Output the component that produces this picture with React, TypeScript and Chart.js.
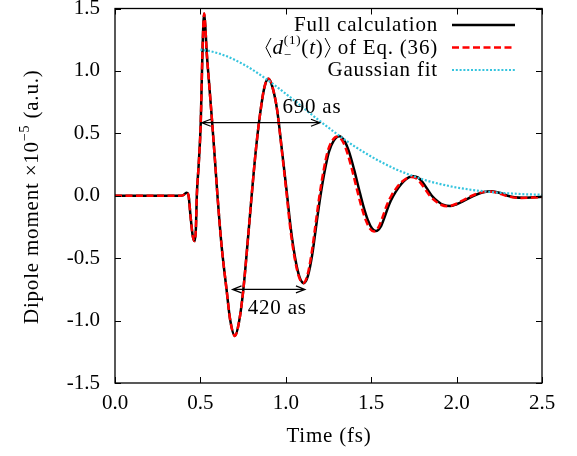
import React, { useEffect, useRef } from 'react';
import { Chart, registerables } from 'chart.js';

Chart.register(...registerables);

const FAMILY = "'Liberation Serif', 'DejaVu Serif', serif";

// ---------- data ----------
const xTicks = [0, 0.5, 1.0, 1.5, 2.0, 2.5];
const yTicks = [-1.5, -1.0, -0.5, 0, 0.5, 1.0, 1.5];

const fullX = [0.0, 0.38, 0.4, 0.418, 0.43, 0.442, 0.455, 0.467, 0.474, 0.479, 0.49, 0.502, 0.512, 0.522, 0.53, 0.536, 0.551, 0.569, 0.585, 0.6, 0.624, 0.653, 0.675, 0.702, 0.725, 0.75, 0.78, 0.8, 0.825, 0.85, 0.875, 0.898, 0.922, 0.95, 0.977, 1.004, 1.03, 1.055, 1.08, 1.106, 1.13, 1.155, 1.18, 1.203, 1.228, 1.252, 1.28, 1.313, 1.345, 1.37, 1.4, 1.43, 1.455, 1.48, 1.505, 1.528, 1.555, 1.58, 1.605, 1.63, 1.66, 1.69, 1.72, 1.747, 1.775, 1.8, 1.83, 1.855, 1.89, 1.92, 1.962, 2.0, 2.05, 2.1, 2.15, 2.206, 2.26, 2.3, 2.34, 2.39, 2.45, 2.5];
const fullY = [0, 0, 0.005, 0.024, 0.005, -0.16, -0.32, -0.363, -0.25, 0.0, 0.25, 0.585, 1.15, 1.46, 1.33, 1.17, 0.9, 0.585, 0.29, 0.0, -0.4, -0.75, -1.0, -1.123, -1.02, -0.77, -0.32, 0.0, 0.37, 0.66, 0.87, 0.938, 0.87, 0.68, 0.37, 0.05, -0.27, -0.5, -0.65, -0.7, -0.64, -0.47, -0.22, 0.0, 0.2, 0.35, 0.44, 0.477, 0.436, 0.353, 0.209, 0.044, -0.087, -0.193, -0.262, -0.283, -0.25, -0.165, -0.07, 0.0, 0.065, 0.115, 0.147, 0.157, 0.145, 0.11, 0.05, 0.0, -0.045, -0.072, -0.083, -0.068, -0.035, 0.0, 0.026, 0.037, 0.02, 0.0, -0.012, -0.016, -0.012, -0.008];

const eqX = [0.0, 0.38, 0.4, 0.418, 0.43, 0.442, 0.455, 0.467, 0.474, 0.479, 0.49, 0.502, 0.512, 0.522, 0.53, 0.536, 0.551, 0.569, 0.585, 0.6, 0.624, 0.653, 0.675, 0.702, 0.725, 0.75, 0.78, 0.8, 0.825, 0.85, 0.875, 0.898, 0.922, 0.95, 0.976, 1.002, 1.027, 1.052, 1.077, 1.102, 1.126, 1.15, 1.175, 1.197, 1.221, 1.244, 1.271, 1.303, 1.334, 1.358, 1.388, 1.418, 1.443, 1.468, 1.493, 1.517, 1.543, 1.568, 1.593, 1.618, 1.648, 1.678, 1.708, 1.734, 1.762, 1.788, 1.818, 1.843, 1.878, 1.908, 1.948, 1.988, 2.038, 2.09, 2.14, 2.196, 2.25, 2.29, 2.33, 2.38, 2.44, 2.5];
const eqY = [0, 0, 0.005, 0.024, 0.005, -0.16, -0.32, -0.363, -0.25, 0.0, 0.25, 0.585, 1.15, 1.46, 1.33, 1.17, 0.9, 0.585, 0.29, 0.0, -0.4, -0.75, -1.0, -1.123, -1.02, -0.77, -0.32, 0.0, 0.37, 0.66, 0.87, 0.938, 0.87, 0.68, 0.37, 0.05, -0.27, -0.5, -0.65, -0.7, -0.64, -0.47, -0.22, 0.0, 0.2, 0.35, 0.44, 0.474, 0.434, 0.352, 0.208, 0.043, -0.088, -0.195, -0.264, -0.286, -0.252, -0.166, -0.07, 0.0, 0.062, 0.11, 0.14, 0.15, 0.14, 0.105, 0.048, 0.0, -0.045, -0.072, -0.085, -0.07, -0.036, 0.0, 0.025, 0.035, 0.018, 0.0, -0.013, -0.018, -0.015, -0.01];

const fitX = [0.5, 0.55, 0.6, 0.65, 0.7, 0.75, 0.8, 0.85, 0.9, 0.95, 1.0, 1.05, 1.1, 1.15, 1.2, 1.25, 1.3, 1.35, 1.4, 1.45, 1.5, 1.55, 1.6, 1.65, 1.7, 1.75, 1.8, 1.85, 1.9, 1.95, 2.0, 2.05, 2.1, 2.15, 2.2, 2.25, 2.3, 2.35, 2.4, 2.45, 2.5];
const fitY = [1.171, 1.16, 1.143, 1.119, 1.089, 1.054, 1.014, 0.969, 0.921, 0.87, 0.817, 0.763, 0.707, 0.652, 0.598, 0.545, 0.494, 0.445, 0.398, 0.355, 0.314, 0.276, 0.241, 0.209, 0.181, 0.155, 0.132, 0.112, 0.095, 0.08, 0.066, 0.055, 0.045, 0.037, 0.03, 0.024, 0.02, 0.016, 0.012, 0.01, 0.008];

const seriesNames = ['Full calculation', 'of Eq. (36)', 'Gaussian fit'];
const seriesColors = ['#000000', '#ff0000', '#35c4de'];
const xTitle = 'Time (fs)';
const yTitleMain = 'Dipole moment \u00d710';
const yTitleSup = '\u22125';
const yTitleEnd = ' (a.u.)';

const arrows = [
  { x1: 0.508, x2: 1.2, y: 0.585, label: '690 as', lx: 1.153, ly: 0.664 },
  { x1: 0.688, x2: 1.112, y: -0.75, label: '420 as', lx: 0.95, ly: -0.95 },
];

// ---------- rich text helpers ----------
type Part = { t?: string; size?: number; italic?: boolean; dy?: number; under?: boolean; bracket?: 'l' | 'r' };

function fnt(size: number, italic?: boolean) {
  return `${italic ? 'italic ' : ''}${size}px ${FAMILY}`;
}

function layoutParts(ctx: CanvasRenderingContext2D, parts: Part[]) {
  let x = 0;
  let prevStart = 0;
  let prevW = 0;
  const items: { p: Part; x: number }[] = [];
  for (const p of parts) {
    let w = 8;
    if (!p.bracket) {
      ctx.font = fnt(p.size || 21, p.italic);
      w = ctx.measureText(p.t || '').width;
    }
    if (p.under) {
      items.push({ p, x: prevStart });
      const extra = Math.max(0, w - prevW);
      x += extra;
      prevW = Math.max(prevW, w);
    } else {
      items.push({ p, x });
      prevStart = x;
      prevW = w;
      x += w;
    }
  }
  return { items, total: x };
}

function drawParts(ctx: CanvasRenderingContext2D, parts: Part[], x0: number, base: number, align: 'left' | 'center' | 'right') {
  const { items, total } = layoutParts(ctx, parts);
  const start = align === 'right' ? x0 - total : align === 'center' ? x0 - total / 2 : x0;
  ctx.textAlign = 'left';
  ctx.textBaseline = 'alphabetic';
  for (const { p, x } of items) {
    const px = start + x;
    if (p.bracket) {
      ctx.beginPath();
      ctx.lineWidth = 1;
      ctx.strokeStyle = '#000';
      if (p.bracket === 'l') {
        ctx.moveTo(px + 6.5, base - 15.5);
        ctx.lineTo(px + 1.5, base - 5.8);
        ctx.lineTo(px + 6.5, base + 4);
      } else {
        ctx.moveTo(px + 1.5, base - 15.5);
        ctx.lineTo(px + 6.5, base - 5.8);
        ctx.lineTo(px + 1.5, base + 4);
      }
      ctx.stroke();
      continue;
    }
    ctx.font = fnt(p.size || 21, p.italic);
    ctx.fillStyle = '#000';
    ctx.fillText(p.t || '', px, base + (p.dy || 0));
  }
}

const decorPlugin = {
  id: 'decor',
  afterDatasetsDraw(chart: any) {
    const { ctx, chartArea: a, scales } = chart;
    const xs = scales.x;
    const ys = scales.y;
    ctx.save();
    // frame
    ctx.strokeStyle = '#000';
    ctx.lineWidth = 1.3;
    ctx.strokeRect(a.left, a.top, a.right - a.left, a.bottom - a.top);
    // inward ticks on all sides
    ctx.lineWidth = 1;
    ctx.beginPath();
    for (const v of xTicks) {
      const px = Math.round(xs.getPixelForValue(v)) + 0.5;
      ctx.moveTo(px, a.bottom);
      ctx.lineTo(px, a.bottom - 6);
      ctx.moveTo(px, a.top);
      ctx.lineTo(px, a.top + 6);
    }
    for (const v of yTicks) {
      const py = Math.round(ys.getPixelForValue(v)) + 0.5;
      ctx.moveTo(a.left, py);
      ctx.lineTo(a.left + 6, py);
      ctx.moveTo(a.right, py);
      ctx.lineTo(a.right - 6, py);
    }
    ctx.stroke();

    // arrows
    ctx.lineWidth = 1.2;
    for (const ar of arrows) {
      const x1 = xs.getPixelForValue(ar.x1);
      const x2 = xs.getPixelForValue(ar.x2);
      const y = ys.getPixelForValue(ar.y);
      ctx.beginPath();
      ctx.moveTo(x1, y);
      ctx.lineTo(x2, y);
      ctx.moveTo(x1 + 9, y - 3.5);
      ctx.lineTo(x1, y);
      ctx.lineTo(x1 + 9, y + 3.5);
      ctx.moveTo(x2 - 9, y - 3.5);
      ctx.lineTo(x2, y);
      ctx.lineTo(x2 - 9, y + 3.5);
      ctx.stroke();
      (ctx as any).letterSpacing = '0.8px';
      drawParts(ctx, [{ t: ar.label, size: 21 }], xs.getPixelForValue(ar.lx), ys.getPixelForValue(ar.ly), 'center');
      (ctx as any).letterSpacing = '0px';
    }
    ctx.restore();
  },
  afterDraw(chart: any) {
    const { ctx, chartArea: a } = chart;
    ctx.save();
    (ctx as any).letterSpacing = '0.8px';
    // x title
    drawParts(ctx, [{ t: xTitle, size: 21 }], (a.left + a.right) / 2 + 0.5, 442, 'center');
    // y title (rotated)
    ctx.save();
    ctx.translate(38, (a.top + a.bottom) / 2 + 1);
    ctx.rotate(-Math.PI / 2);
    drawParts(ctx, [
      { t: yTitleMain, size: 21 },
      { t: yTitleSup, size: 14, dy: -9 },
      { t: yTitleEnd, size: 21 },
    ], 0, 0, 'center');
    ctx.restore();

    // legend
    const textRight = 438;
    const s1 = 452;
    const s2 = 515;
    const rows = [31, 53.5, 76];
    const lineY = [25, 47.5, 70];
    drawParts(ctx, [{ t: seriesNames[0], size: 21 }], textRight, rows[0], 'right');
    drawParts(ctx, [
      { bracket: 'l' },
      { t: 'd', size: 21, italic: true },
      { t: '(1)', size: 13, dy: -10 },
      { t: '\u2212', size: 13, dy: 5, under: true },
      { t: '(', size: 21 },
      { t: 't', size: 21, italic: true },
      { t: ')', size: 21 },
      { bracket: 'r' },
      { t: ' ' + seriesNames[1], size: 21 },
    ], textRight, rows[1], 'right');
    drawParts(ctx, [{ t: seriesNames[2], size: 21 }], textRight, rows[2], 'right');

    // samples
    ctx.lineCap = 'butt';
    ctx.beginPath();
    ctx.strokeStyle = seriesColors[0];
    ctx.lineWidth = 2.5;
    ctx.setLineDash([]);
    ctx.moveTo(s1, lineY[0]);
    ctx.lineTo(s2, lineY[0]);
    ctx.stroke();
    ctx.beginPath();
    ctx.strokeStyle = seriesColors[1];
    ctx.setLineDash([7, 3.5]);
    ctx.moveTo(s1, lineY[1]);
    ctx.lineTo(s2, lineY[1]);
    ctx.stroke();
    ctx.beginPath();
    ctx.strokeStyle = seriesColors[2];
    ctx.lineWidth = 2.2;
    ctx.setLineDash([2, 1.8]);
    ctx.moveTo(s1, lineY[2]);
    ctx.lineTo(s2, lineY[2]);
    ctx.stroke();
    ctx.restore();
  },
};

function pts(xs: number[], ys: number[]) {
  return xs.map((x, i) => ({ x, y: ys[i] }));
}

export default function App() {
  const ref = useRef<HTMLCanvasElement>(null);
  useEffect(() => {
    document.body.style.margin = '0';
    const canvas = ref.current;
    if (!canvas) return;
    const tickFont = { family: FAMILY, size: 21, lineHeight: 0.8 };
    const chart = new Chart(canvas, {
      type: 'line',
      data: {
        datasets: [
          {
            label: seriesNames[0],
            data: pts(fullX, fullY),
            borderColor: seriesColors[0],
            borderWidth: 2.5,
            pointRadius: 0,
            cubicInterpolationMode: 'monotone',
            fill: false,
            order: 3,
          },
          {
            label: seriesNames[1],
            data: pts(eqX, eqY),
            borderColor: seriesColors[1],
            borderWidth: 2.5,
            borderDash: [7, 3.5],
            pointRadius: 0,
            cubicInterpolationMode: 'monotone',
            fill: false,
            order: 2,
          },
          {
            label: seriesNames[2],
            data: pts(fitX, fitY),
            borderColor: seriesColors[2],
            borderWidth: 2.2,
            borderDash: [2, 1.8],
            pointRadius: 0,
            cubicInterpolationMode: 'monotone',
            fill: false,
            order: 1,
          },
        ],
      },
      options: {
        animation: false,
        responsive: false,
        devicePixelRatio: 1,
        layout: { padding: { left: 0, right: 35, top: 8.5, bottom: 0 } },
        plugins: { legend: { display: false }, tooltip: { enabled: false } },
        scales: {
          x: {
            type: 'linear',
            min: 0,
            max: 2.5,
            afterBuildTicks: (s: any) => {
              s.ticks = xTicks.map((v) => ({ value: v }));
            },
            afterFit: (s: any) => {
              s.height = 73;
              s.paddingLeft = 0;
              s.paddingRight = 0;
              s.paddingTop = 0;
              s.paddingBottom = 0;
            },
            grid: { display: false, drawTicks: false },
            border: { display: false },
            ticks: {
              font: tickFont,
              color: '#000',
              padding: 12,
              maxRotation: 0,
              autoSkip: false,
              callback: (v: any) => Number(v).toFixed(1),
            },
          },
          y: {
            type: 'linear',
            min: -1.5,
            max: 1.5,
            afterBuildTicks: (s: any) => {
              s.ticks = yTicks.map((v) => ({ value: v }));
            },
            afterFit: (s: any) => {
              s.width = 115;
              s.paddingTop = 0;
              s.paddingBottom = 0;
              s.paddingLeft = 0;
              s.paddingRight = 0;
            },
            grid: { display: false, drawTicks: false },
            border: { display: false },
            ticks: {
              font: tickFont,
              color: '#000',
              padding: 15,
              autoSkip: false,
              callback: (v: any) => Number(v).toFixed(1),
            },
          },
        },
      },
      plugins: [decorPlugin],
    } as any);
    return () => chart.destroy();
  }, []);
  return (
    <div style={{ width: 577, height: 456 }}>
      <canvas ref={ref} width={577} height={456} style={{ display: 'block' }} />
    </div>
  );
}
